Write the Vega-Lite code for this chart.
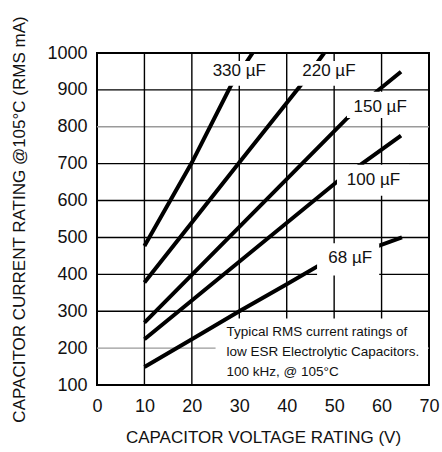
{
  "$schema": "https://vega.github.io/schema/vega-lite/v6.json",
  "width": 332,
  "height": 332,
  "autosize": {"type": "none"},
  "padding": {"left": 97, "top": 53, "right": 13, "bottom": 67},
  "background": "white",
  "config": {
    "view": {"stroke": "black", "strokeWidth": 2},
    "font": "Liberation Sans",
    "axis": {
      "labelFont": "Liberation Sans",
      "titleFont": "Liberation Sans",
      "labelFontSize": 18,
      "titleFontSize": 17,
      "titleFontWeight": "normal",
      "labelColor": "#111",
      "titleColor": "#111",
      "labelOverlap": false,
      "labelFlush": false,
      "labelBound": false,
      "domain": false,
      "ticks": false,
      "grid": false
    }
  },
  "datasets": {
    "curves": [
      {"cap": "330", "v": 10, "i": 477}, {"cap": "330", "v": 20, "i": 703}, {"cap": "330", "v": 28.3, "i": 913}, {"cap": "330", "v": 32.8, "i": 1000},
      {"cap": "220", "v": 10, "i": 378}, {"cap": "220", "v": 30, "i": 703}, {"cap": "220", "v": 43, "i": 913}, {"cap": "220", "v": 47.9, "i": 1000},
      {"cap": "150", "v": 10, "i": 269}, {"cap": "150", "v": 52.8, "i": 824}, {"cap": "150", "v": 59.1, "i": 897}, {"cap": "150", "v": 64.1, "i": 949},
      {"cap": "100", "v": 10, "i": 224}, {"cap": "100", "v": 50.6, "i": 651}, {"cap": "100", "v": 55.3, "i": 695}, {"cap": "100", "v": 64.1, "i": 776},
      {"cap": "68", "v": 10, "i": 149}, {"cap": "68", "v": 20, "i": 224}, {"cap": "68", "v": 30, "i": 300}, {"cap": "68", "v": 40, "i": 373}, {"cap": "68", "v": 46.5, "i": 422}, {"cap": "68", "v": 59.5, "i": 478}, {"cap": "68", "v": 64.3, "i": 500}
    ],
    "labels": [
      {"label": "330 µF", "v": 30.0, "i": 951, "v1": 22.8, "v2": 36.9, "i1": 911, "i2": 978},
      {"label": "220 µF", "v": 48.9, "i": 951, "v1": 41.8, "v2": 56.3, "i1": 911, "i2": 978},
      {"label": "150 µF", "v": 59.7, "i": 854, "v1": 52.7, "v2": 66.8, "i1": 824, "i2": 895},
      {"label": "100 µF", "v": 58.3, "i": 657, "v1": 50.6, "v2": 65.8, "i1": 613, "i2": 697},
      {"label": "68 µF", "v": 53.4, "i": 443, "v1": 46.4, "v2": 59.5, "i1": 397, "i2": 484}
    ],
    "note": [
      {"text": "Typical RMS current ratings of", "v": 27.3, "i": 243},
      {"text": "low ESR Electrolytic Capacitors.", "v": 27.3, "i": 189},
      {"text": "100 kHz, @ 105°C", "v": 27.3, "i": 135}
    ],
    "notebox": [
      {"v1": 25, "v2": 69.79, "i1": 102.7, "i2": 280}
    ],
    "hgrid": [{"i": 200}, {"i": 300}, {"i": 400}, {"i": 500}, {"i": 600}, {"i": 700}, {"i": 800}, {"i": 900}],
    "vgrid": [{"v": 10}, {"v": 20}, {"v": 30}, {"v": 40}, {"v": 50}, {"v": 60}]
  },
  "layer": [
    {
      "data": {"name": "hgrid"},
      "mark": {"type": "rule", "strokeWidth": 1.4},
      "encoding": {
        "y": {
          "field": "i", "type": "quantitative",
          "scale": {"domain": [100, 1000], "nice": false, "zero": false},
          "axis": {
            "values": [100, 200, 300, 400, 500, 600, 700, 800, 900, 1000],
            "format": "d",
            "tickCount": 10,
            "labelOverlap": false,
            "title": "CAPACITOR CURRENT RATING @105°C (RMS mA)",
            "labelPadding": 10,
            "titlePadding": 18
          }
        },
        "color": {"condition": {"test": "datum.i === 800 || datum.i === 200", "value": "#9a9a9a"}, "value": "black"}
      }
    },
    {
      "data": {"name": "vgrid"},
      "mark": {"type": "rule", "strokeWidth": 1.4, "color": "black"},
      "encoding": {
        "x": {
          "field": "v", "type": "quantitative",
          "scale": {"domain": [0, 70], "nice": false, "zero": false},
          "axis": {
            "values": [0, 10, 20, 30, 40, 50, 60, 70],
            "format": "d",
            "title": "CAPACITOR VOLTAGE RATING (V)",
            "labelPadding": 12,
            "titlePadding": 14
          }
        }
      }
    },
    {
      "data": {"name": "notebox"},
      "mark": {"type": "rect", "fill": "white"},
      "encoding": {
        "x": {"field": "v1", "type": "quantitative"},
        "x2": {"field": "v2"},
        "y": {"field": "i1", "type": "quantitative"},
        "y2": {"field": "i2"}
      }
    },
    {
      "data": {"name": "curves"},
      "mark": {"type": "line", "stroke": "black", "strokeWidth": 4, "strokeCap": "butt"},
      "encoding": {
        "x": {"field": "v", "type": "quantitative"},
        "y": {"field": "i", "type": "quantitative"},
        "detail": {"field": "cap"}
      }
    },
    {
      "data": {"name": "labels"},
      "mark": {"type": "rect", "fill": "white"},
      "encoding": {
        "x": {"field": "v1", "type": "quantitative"},
        "x2": {"field": "v2"},
        "y": {"field": "i1", "type": "quantitative"},
        "y2": {"field": "i2"}
      }
    },
    {
      "data": {"name": "labels"},
      "mark": {"type": "text", "fontSize": 17, "font": "Liberation Sans", "color": "#111", "align": "center", "baseline": "middle"},
      "encoding": {
        "x": {"field": "v", "type": "quantitative"},
        "y": {"field": "i", "type": "quantitative"},
        "text": {"field": "label"}
      }
    },
    {
      "data": {"name": "note"},
      "mark": {"type": "text", "fontSize": 13.5, "font": "Liberation Sans", "color": "#111", "align": "left", "baseline": "middle"},
      "encoding": {
        "x": {"field": "v", "type": "quantitative"},
        "y": {"field": "i", "type": "quantitative"},
        "text": {"field": "text"}
      }
    }
  ]
}
